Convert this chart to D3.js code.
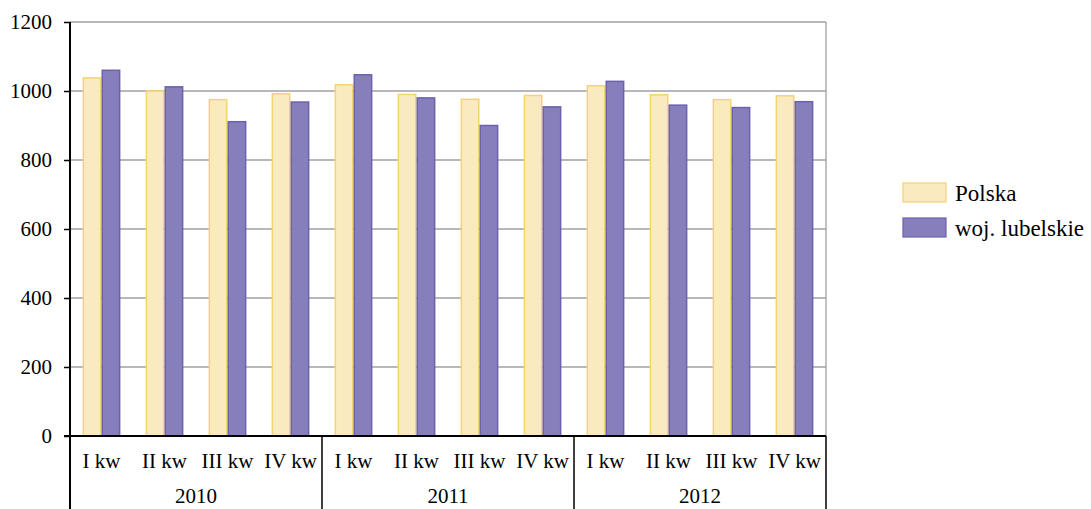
<!DOCTYPE html>
<html><head><meta charset="utf-8">
<script src="https://cdn.jsdelivr.net/npm/d3@7/dist/d3.min.js"></script>
<style>body{margin:0;background:#fff}svg text{font-family:"Liberation Serif","Times New Roman",serif;fill:#000}</style>
</head><body><svg id="c" width="1091" height="509"></svg>
<script>
const years = ["2010","2011","2012"];
const quarters = ["I kw","II kw","III kw","IV kw"];
const seriesNames = ["Polska","woj. lubelskie"];
const polska =   [1038,1000,975,992, 1018,990,976,987, 1015,989,975,986];
const lubelskie = [1060,1012,911,968, 1047,980,900,954, 1028,959,952,969];
const yTicks = [0,200,400,600,800,1000,1200];

const svg = d3.select("#c");
const L=70,R=826,T=22,B=436;
const cats = [];
years.forEach(y=>quarters.forEach(q=>cats.push(y+"|"+q)));
const x = d3.scaleBand().domain(cats).range([L,R]).paddingInner(0.4).paddingOuter(0.2);
const xs = d3.scaleBand().domain(seriesNames).range([0,x.bandwidth()]);
const y = d3.scaleLinear().domain([0,1200]).range([B,T]);

// gridlines
svg.append("g").selectAll("line").data(yTicks.filter(d=>d>0)).join("line")
  .attr("x1",L).attr("x2",R).attr("y1",d=>y(d)).attr("y2",d=>y(d))
  .attr("stroke","#a0a0a0").attr("stroke-width",1.3);
svg.append("line").attr("x1",R).attr("x2",R).attr("y1",T).attr("y2",B).attr("stroke","#a0a0a0").attr("stroke-width",1.3);

const fills=["#FAEAC0","#877FBC"], strokes=["#F5D36E","#6C61AD"];
[polska,lubelskie].forEach((vals,si)=>{
  svg.append("g").selectAll("rect").data(vals).join("rect")
    .attr("x",(d,i)=>x(cats[i])+xs(seriesNames[si])+0.75)
    .attr("width",xs.bandwidth()-1.5)
    .attr("y",d=>y(d)).attr("height",d=>B-y(d))
    .attr("fill",fills[si]).attr("stroke",strokes[si]).attr("stroke-width",1.5);
});

// y axis
const ya = svg.append("g").attr("transform",`translate(${L},0)`)
  .call(d3.axisLeft(y).tickValues(yTicks).tickFormat(d3.format("d")).tickSize(6).tickPadding(12));
ya.select(".domain").remove();
ya.selectAll("line").attr("stroke","#000").attr("stroke-width",1.5);
ya.selectAll("text").style("font-family",'"Liberation Serif",serif').style("font-size","21px").attr("fill","#000");
svg.append("line").attr("x1",L).attr("x2",L).attr("y1",T).attr("y2",509).attr("stroke","#000").attr("stroke-width",2);
svg.append("line").attr("x1",L-6).attr("x2",R).attr("y1",B).attr("y2",B).attr("stroke","#000").attr("stroke-width",2);

// group separators
const step = (R-L)/cats.length;
years.forEach((yr,i)=>{
  const xr = L + step*quarters.length*(i+1);
  svg.append("line").attr("x1",xr).attr("x2",xr).attr("y1",B).attr("y2",509).attr("stroke","#000").attr("stroke-width",1.5);
  svg.append("text").attr("x",L+step*quarters.length*(i+0.5)).attr("y",503)
    .attr("text-anchor","middle").style("font-size","21px").text(yr);
});
cats.forEach((c,i)=>{
  svg.append("text").attr("x",L+step*(i+0.5)).attr("y",468)
    .attr("text-anchor","middle").style("font-size","21px").text(c.split("|")[1]);
});

// legend
seriesNames.forEach((n,i)=>{
  const ly = 183 + i*35;
  svg.append("rect").attr("x",903).attr("y",ly).attr("width",43).attr("height",19)
    .attr("fill",fills[i]).attr("stroke",strokes[i]).attr("stroke-width",1.2);
  svg.append("text").attr("x",955).attr("y",ly+18).style("font-size","23px").text(n);
});
</script></body></html>
